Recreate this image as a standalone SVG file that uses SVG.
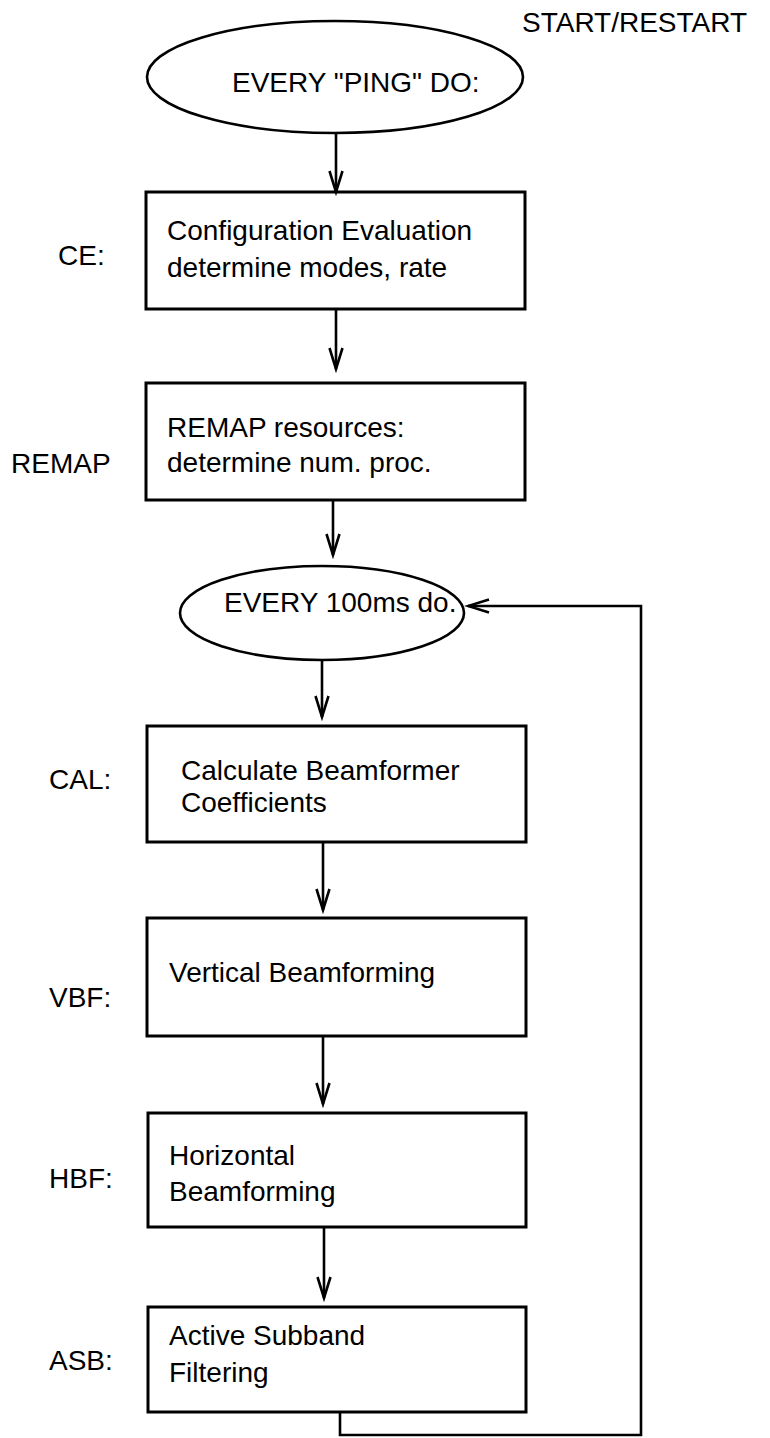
<svg xmlns="http://www.w3.org/2000/svg" width="770" height="1438" viewBox="0 0 770 1438">
  <defs>
    <style>
      text { font-family: "Liberation Sans", Arial, Helvetica, sans-serif; font-size: 28px; fill: #000; }
      .box { fill: #fff; stroke: #000; stroke-width: 3; }
      .oval { fill: #fff; stroke: #000; stroke-width: 2.6; }
      .wire { fill: none; stroke: #000; stroke-width: 2.6; }
    </style>
    <marker id="head" markerUnits="userSpaceOnUse" markerWidth="26" markerHeight="18" refX="22" refY="8" orient="auto">
      <path d="M1,1.5 L22,8 L1,14.5" fill="none" stroke="#000" stroke-width="2.6" stroke-linejoin="miter"/>
    </marker>
  </defs>

  <rect width="770" height="1438" fill="#fff"/>

  <!-- side captions -->
  <text x="522" y="32">START/RESTART</text>

  <g id="start">
    <ellipse class="oval" cx="335" cy="77" rx="188" ry="56"/>
    <text x="232" y="92">EVERY "PING" DO:</text>
  </g>

  <g id="ce">
    <text x="58" y="265">CE:</text>
    <rect class="box" x="146" y="192" width="379" height="117"/>
    <text x="167" y="240">Configuration Evaluation</text>
    <text x="167" y="277">determine modes, rate</text>
  </g>

  <g id="remap">
    <text x="11" y="473">REMAP</text>
    <rect class="box" x="146" y="383" width="379" height="117"/>
    <text x="167" y="437">REMAP resources:</text>
    <text x="167" y="472">determine num. proc.</text>
  </g>

  <g id="tick">
    <ellipse class="oval" cx="322" cy="613" rx="142" ry="47"/>
    <text x="224" y="612">EVERY 100ms do.</text>
  </g>

  <g id="cal">
    <text x="49" y="789">CAL:</text>
    <rect class="box" x="147" y="726" width="379" height="116"/>
    <text x="181" y="780">Calculate Beamformer</text>
    <text x="181" y="812">Coefficients</text>
  </g>

  <g id="vbf">
    <text x="49" y="1007">VBF:</text>
    <rect class="box" x="147" y="918" width="379" height="118"/>
    <text x="169" y="982">Vertical Beamforming</text>
  </g>

  <g id="hbf">
    <text x="49" y="1188">HBF:</text>
    <rect class="box" x="148" y="1113" width="378" height="114"/>
    <text x="169" y="1165">Horizontal</text>
    <text x="169" y="1201">Beamforming</text>
  </g>

  <g id="asb">
    <text x="49" y="1370">ASB:</text>
    <rect class="box" x="148" y="1307" width="378" height="105"/>
    <text x="169" y="1345">Active Subband</text>
    <text x="169" y="1382">Filtering</text>
  </g>

  <g id="connectors">
    <path class="wire" d="M336,133 V192" marker-end="url(#head)"/>
    <path class="wire" d="M336,309 V369" marker-end="url(#head)"/>
    <path class="wire" d="M333,500 V555" marker-end="url(#head)"/>
    <path class="wire" d="M322,660 V717" marker-end="url(#head)"/>
    <path class="wire" d="M323,842 V910" marker-end="url(#head)"/>
    <path class="wire" d="M323,1036 V1104" marker-end="url(#head)"/>
    <path class="wire" d="M324,1227 V1298" marker-end="url(#head)"/>
    <path class="wire" d="M340,1412 V1435 H641 V606 H468" marker-end="url(#head)"/>
  </g>
</svg>
